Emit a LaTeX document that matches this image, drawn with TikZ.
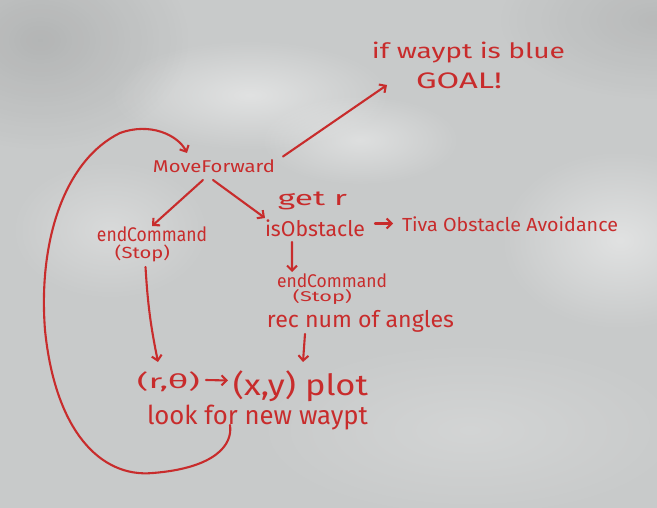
\documentclass[tikz,border=0pt]{standalone}
\usepackage{graphicx}
\usepackage{fontspec}
\setmainfont{Fira Sans}
\usetikzlibrary{arrows.meta,calc,fadings}
\definecolor{ink}{RGB}{200,44,44}
\definecolor{board}{RGB}{200,202,202}
\newcommand{\hw}[3]{\resizebox*{#1pt}{#2pt}{#3}}
\tikzfading[name=softglow, inner color=transparent!0, outer color=transparent!100]
\begin{document}
\begin{tikzpicture}[x=1pt,y=-1pt,
  lbl/.style={inner sep=0pt,outer sep=0pt,text=ink,font=\fontsize{16}{16}\selectfont},
  ln/.style={draw=ink,line width=2.1pt,line cap=round,line join=round},
  arr/.style={ln,-{Straight Barb[length=5pt,width=10pt]}},
  glow/.style={fill=white,path fading=softglow,opacity=#1},
  shade/.style={fill=black,path fading=softglow,opacity=#1}]
% board
\useasboundingbox (0,0) rectangle (657,508);
\fill[board] (0,0) rectangle (657,508);
\path[glow=0.45] (250,95) ellipse [x radius=140, y radius=55];
\path[glow=0.40] (360,140) ellipse [x radius=100, y radius=45];
\path[glow=0.45] (620,240) ellipse [x radius=120, y radius=90];
\path[glow=0.30] (110,230) ellipse [x radius=100, y radius=70];
\path[glow=0.20] (470,430) ellipse [x radius=220, y radius=90];
\path[shade=0.10] (40,40) ellipse [x radius=150, y radius=110];
\path[shade=0.08] (657,20) ellipse [x radius=160, y radius=80];

% texts
\node[lbl] (ifw)   at (468.5,52.5) {\hw{193}{21}{if waypt is blue}};
\node[lbl] (goal)  at (459,81)     {\hw{86}{16}{GOAL!}};
\node[lbl] (mf)    at (214,166.5)  {\hw{122}{13}{MoveForward}};
\node[lbl] (getr)  at (312.5,201)  {\hw{69}{18}{get r}};
\node[lbl] (isobs) at (315,228.5)  {\hw{100}{17}{isObstacle}};
\node[lbl] (tiva)  at (510,224.5)  {\hw{216}{15}{Tiva Obstacle Avoidance}};
\node[lbl] (endL)  at (152,234.5)  {\hw{110}{15}{endCommand}};
\node[lbl] (stopL) at (142.5,253.5){\hw{55}{17}{(Stop)}};
\node[lbl] (endR)  at (332,281)    {\hw{110}{14}{endCommand}};
\node[lbl] (stopR) at (322.5,297.5){\hw{59}{15}{(Stop)}};
\node[lbl] (rec)   at (360.5,321)  {\hw{187}{22}{rec num of angles}};
\node[lbl] (rt)    at (168.5,382)  {\hw{63}{20}{(r,θ)}};
\node[lbl] (xy)    at (300.5,386.5){\hw{135}{31}{(x,y) plot}};
\node[lbl] (look)  at (257.5,417.5){\hw{221}{25}{look for new waypt}};

% connectors
\draw[arr] ($(mf.east)+(8,-10)$) -- ($(goal.west)+(-29,4)$);
\draw[arr] ($(mf.south)+(-11,7)$) -- ($(endL.north)+(0,-1)$);
\draw[arr] ($(mf.south)+(-1,7)$) -- ($(isobs.north west)+(0,-2)$);
\draw[arr] ($(isobs.east)+(10,-5)$) -- ($(tiva.west)+(-9,-1)$);
\draw[arr] ($(isobs.south west)+(27,5)$) -- ($(endR.north west)+(15,-2)$);
\draw[arr] ($(stopL.south)+(3,5)$) to[bend right=4] ($(rt.north west)+(21,-10)$);
\draw[arr] ($(rec.south west)+(38,2)$) -- ($(xy.north west)+(70,-9)$);
\draw[arr] ($(rt.east)+(6,-2)$) -- ($(xy.west)+(-5,-6)$);
\draw[arr] ($(look.south west)+(83,-5)$) .. controls (233,445) and (215,468) .. (153,473)
  .. controls (100,478) and (55,430) .. (45,330)
  .. controls (38,240) and (65,160) .. (120,133)
  .. controls (150,122) and (178,135) .. ($(mf.north west)+(34,-7)$);
\end{tikzpicture}
\end{document}
